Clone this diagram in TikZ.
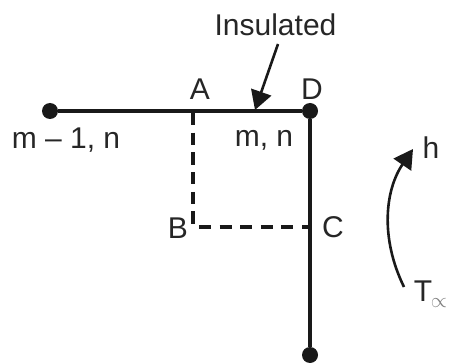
\documentclass[tikz,border=0pt]{standalone}
\usepackage{fontspec}
\setmainfont{Liberation Sans}
\usetikzlibrary{arrows.meta}
\tikzset{
  dotnode/.style={circle,fill=black!90,inner sep=0pt,minimum size=16pt},
  pointnode/.style={inner sep=0pt,outer sep=0pt,minimum size=0pt},
  lab/.style={inner sep=0pt,font=\fontsize{30}{32}\selectfont,text=black!85,anchor=base},
  solidline/.style={line width=3.3pt,black!90},
  vdash/.style={line width=4pt,black!90,dash pattern=on 12.3pt off 7.4pt,dash phase=17.7pt},
  hdash/.style={line width=3.4pt,black!90,dash pattern=on 12pt off 8.6pt,dash phase=14.6pt},
  pointer/.style={line width=2.6pt,black!90,-{Triangle[length=19pt,width=21pt]}}
}
\begin{document}
\begin{tikzpicture}[x=1pt,y=-1pt]
\useasboundingbox (0,0) rectangle (449,363);
\node[dotnode] (L) at (50,111) {};
\node[dotnode] (D) at (310,111) {};
\node[dotnode] (E) at (310,355) {};
\node[pointnode] (A) at (193,111) {};
\node[pointnode] (B) at (193,227) {};
\node[pointnode] (C) at (310,227) {};
\coordinate (P) at (255,110);
\coordinate (Q) at (278,44);
\coordinate (R) at (404,287);
\coordinate (S) at (413,149);
\draw[solidline] (L) -- (D);
\draw[solidline] (D) -- (E);
\draw[vdash] (A) -- (B);
\draw[hdash] (B) -- (C);
\draw[pointer] (Q) -- (P);
\draw[pointer] (R) .. controls (380,238) and (385,190) .. (S);
\node[lab] (tI) at (275.5,36) {Insulated};
\node[lab] (tA) at (200,100) {A};
\node[lab] (tD) at (312,100) {D};
\node[lab] (tm1) at (66,149) {m – 1, n};
\node[lab] (tm) at (264,147) {m, n};
\node[lab] (tB) at (178,238) {B};
\node[lab] (tC) at (333,237) {C};
\node[lab] (th) at (431,159) {h};
\node[lab] (tT) at (423,301) {T};
\node[inner sep=0pt,text=black!50,font=\fontsize{22}{24}\selectfont] (tinf) at (439,303) {$\propto$};
\end{tikzpicture}
\end{document}
